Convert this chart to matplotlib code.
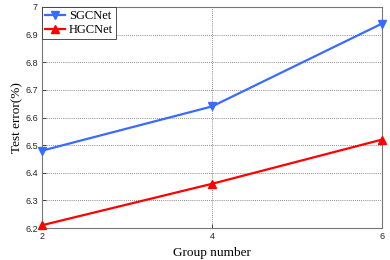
import numpy as np
import matplotlib
matplotlib.use('Agg')
import matplotlib.pyplot as plt

# Data
groups = [2, 4, 6]
sgcnet = [6.48, 6.64, 6.94]
hgcnet = [6.21, 6.36, 6.52]
y_ticks = [6.2, 6.3, 6.4, 6.5, 6.6, 6.7, 6.8, 6.9, 7]
y_tick_labels = ['6.2', '6.3', '6.4', '6.5', '6.6', '6.7', '6.8', '6.9', '7']

fig = plt.figure(figsize=(3.9, 2.6), dpi=100)
ax = fig.add_axes([42 / 390, 1 - 228 / 260, 340 / 390, 221 / 260])

ax.plot(groups, sgcnet, color='#3a6bff', lw=1.6, marker='v', ms=6,
        label='SGCNet', clip_on=False, zorder=3)
ax.plot(groups, hgcnet, color='#ff0000', lw=1.6, marker='^', ms=6,
        label='HGCNet', clip_on=False, zorder=3)

ax.set_xlim(2, 6)
ax.set_ylim(6.2, 7)
ax.set_xticks(groups)
ax.set_yticks(y_ticks)
ax.set_yticklabels(y_tick_labels)
ax.tick_params(direction='in', length=3, width=0.6, labelsize=6.5,
               colors='#262626', pad=3)
for lbl in ax.get_xticklabels() + ax.get_yticklabels():
    lbl.set_family('Liberation Sans')
ax.grid(True, linestyle=(0, (1, 1.5)), color='#666666', linewidth=0.6)
for s in ax.spines.values():
    s.set_color('#777777')
    s.set_linewidth(0.8)

ax.set_xlabel('Group number', family='Liberation Serif', fontsize=9.5, labelpad=4)
ax.set_ylabel('Test error(%)', family='Liberation Serif', fontsize=9.5, labelpad=1)

leg = ax.legend(loc='upper left', prop={'family': 'Liberation Serif', 'size': 9},
                fancybox=False, framealpha=1, edgecolor='#333333',
                borderpad=0.25, labelspacing=0.15, handlelength=1.6,
                handletextpad=0.3, borderaxespad=0.0)
leg.get_frame().set_linewidth(0.6)

fig.savefig('out.png', dpi=100)
